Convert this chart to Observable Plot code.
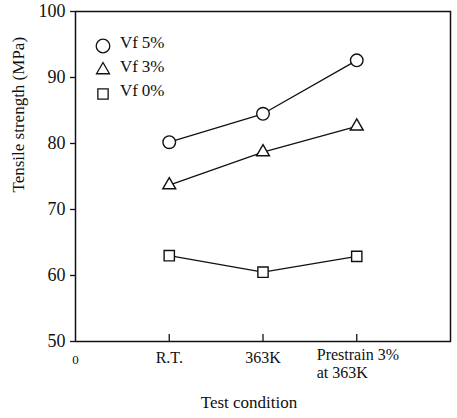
<!DOCTYPE html>
<html>
<head>
<meta charset="utf-8">
<script src="https://cdn.jsdelivr.net/npm/d3@7"></script>
<script src="https://cdn.jsdelivr.net/npm/@observablehq/plot@0.6"></script>
<style>
  html, body { margin: 0; padding: 0; background: #fff; }
  #chart svg { display: block; }
  #chart svg, #chart svg text { font-family: "Liberation Serif", "DejaVu Serif", serif !important; }
</style>
</head>
<body>
<div id="chart"></div>
<script>
// Test conditions along the x axis (position 0 is the origin label)
const conditions = ["R.T.", "363K", "Prestrain 3%\nat 363K"];
const originLabel = "0";

// Fibre volume fractions
const series = ["Vf 5%", "Vf 3%", "Vf 0%"];
const seriesFraction = ["5%", "3%", "0%"];
const symbols = ["circle", "triangle", "square"];

// Tensile strength (MPa) per condition
const vf5 = [80.2, 84.5, 92.6];
const vf3 = [73.7, 78.7, 82.6];
const vf0 = [63.0, 60.5, 62.9];

const yTicks = [50, 60, 70, 80, 90, 100];

const values = [vf5, vf3, vf0];
const data = series.flatMap((s, si) =>
  values[si].map((v, ci) => ({series: s, symbol: symbols[si], pos: ci + 1, value: v}))
);

const font = "Liberation Serif, DejaVu Serif, serif";
const W = 457, H = 418;
const markerR = {circle: 6.3, triangle: 4.8, square: 5.8};

const chart = Plot.plot({
  width: W,
  height: H,
  marginLeft: 75,
  marginRight: 7,
  marginTop: 11,
  marginBottom: 77,
  style: {fontFamily: font, background: "#fff", color: "#111"},
  x: {domain: [0, 4], axis: null},
  y: {domain: [50, 100], axis: null},
  r: {type: "identity"},
  symbol: {domain: symbols, range: symbols},
  marks: [
    Plot.frame({stroke: "#111", strokeWidth: 1.5}),
    // y axis: outward ticks with numbers
    Plot.axisY({ticks: yTicks, tickSize: 5, tickPadding: 5, fontSize: 18, label: null, stroke: "#111", strokeWidth: 1.3}),
    // x axis: short inward ticks at each condition
    Plot.axisX({ticks: [1, 2, 3], tickSize: 7, dy: -7, tickFormat: () => "", label: null, stroke: "#111", strokeWidth: 1.3}),
    // x tick labels
    Plot.text([originLabel], {x: 0, frameAnchor: "bottom", dy: 22, fontSize: 13, fill: "#111"}),
    Plot.text(conditions.slice(0, 2), {x: (d, i) => i + 1, frameAnchor: "bottom", dy: 21, fontSize: 16, fill: "#111"}),
    Plot.text(conditions.slice(2), {x: 3, frameAnchor: "bottom", lineAnchor: "top", textAnchor: "start", dx: -40, dy: 5, fontSize: 16, lineHeight: 1.15, fill: "#111"}),
    // axis titles
    Plot.text(["Tensile strength (MPa)"], {frameAnchor: "left", dx: -57, dy: 16, rotate: -90, fontSize: 17, fill: "#111"}),
    Plot.text(["Test condition"], {frameAnchor: "bottom", dx: -14, dy: 66, fontSize: 17, fill: "#111"}),
    // series lines and markers
    Plot.line(data, {x: "pos", y: "value", z: "series", stroke: "#111", strokeWidth: 1.3}),
    Plot.dot(data, {
      x: "pos", y: "value", symbol: "symbol",
      r: d => markerR[d.symbol],
      fill: "#fff", stroke: "#111", strokeWidth: 1.4
    })
  ]
});

document.getElementById("chart").appendChild(chart);

// Legend in the upper-left corner of the plotting area
const svg = d3.select(chart);
const legend = svg.append("g")
  .attr("transform", "translate(103,46)")
  .attr("font-size", 17)
  .attr("fill", "#111");
const symbolTypes = {circle: d3.symbolCircle, triangle: d3.symbolTriangle, square: d3.symbolSquare};
const legendR = {circle: 6.8, triangle: 4.8, square: 5.8};
series.forEach((s, i) => {
  const row = legend.append("g").attr("transform", `translate(0,${i * 24})`);
  const r = legendR[symbols[i]];
  row.append("path")
    .attr("d", d3.symbol(symbolTypes[symbols[i]], Math.PI * r * r)())
    .attr("fill", "#fff").attr("stroke", "#111").attr("stroke-width", 1.3);
  row.append("text").attr("x", 26).attr("dy", "0.1em").text("Vf");
  row.append("text").attr("x", 50).attr("dy", "0.1em").text(seriesFraction[i]);
});
</script>
</body>
</html>
